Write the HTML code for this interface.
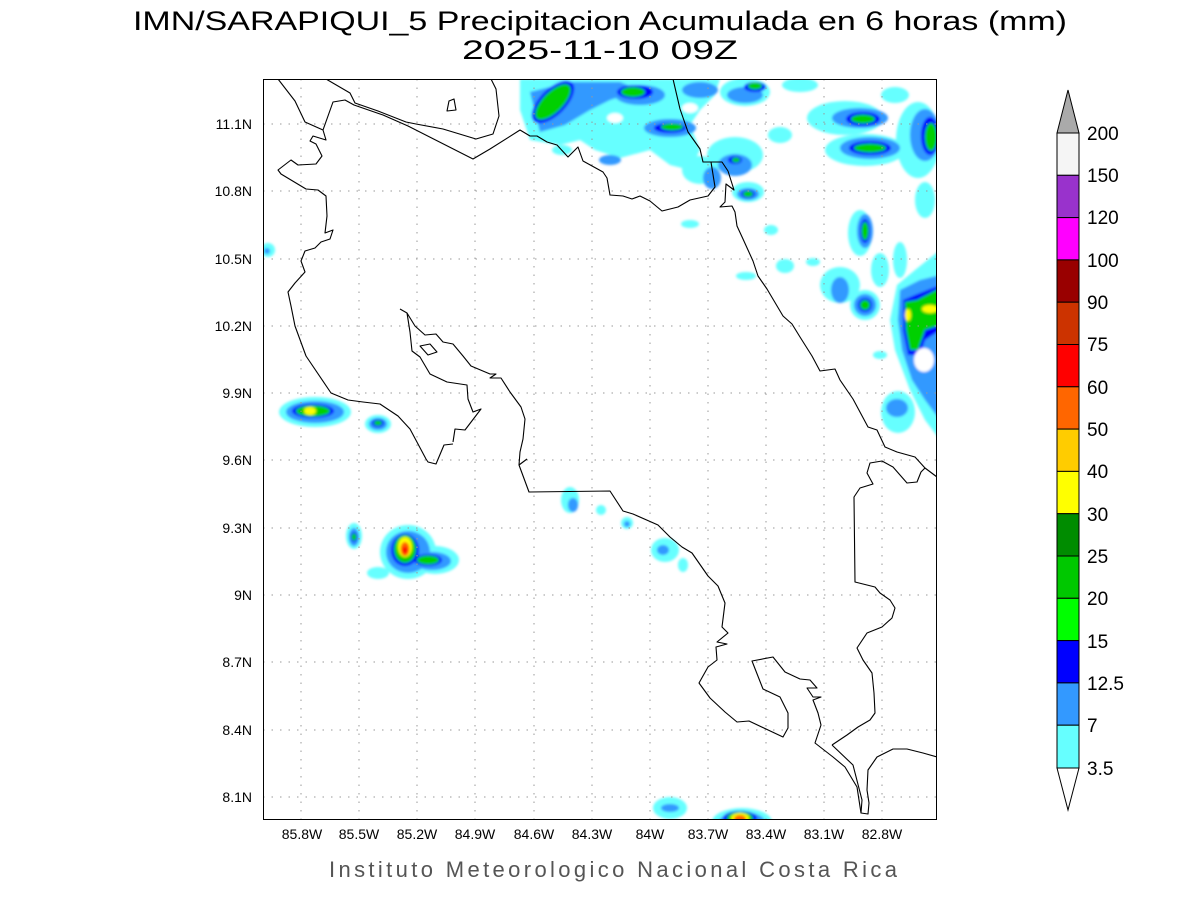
<!DOCTYPE html>
<html><head><meta charset="utf-8"><style>
html,body{margin:0;padding:0;background:#fff;}
svg{display:block;}
text{font-family:"Liberation Sans",sans-serif;}
</style></head><body>
<svg width="1200" height="900" viewBox="0 0 1200 900" xmlns="http://www.w3.org/2000/svg">
<rect width="1200" height="900" fill="#fff"/>
<text x="600" y="30" font-size="27" text-anchor="middle" textLength="934" lengthAdjust="spacingAndGlyphs" fill="#000">IMN/SARAPIQUI_5 Precipitacion Acumulada en 6 horas (mm)</text>
<text x="600" y="59" font-size="27" text-anchor="middle" textLength="276" lengthAdjust="spacingAndGlyphs" fill="#000">2025-11-10 09Z</text>

<defs><clipPath id="c"><rect x="263" y="79" width="674" height="741"/></clipPath>
<filter id="b" x="-20%" y="-20%" width="140%" height="140%"><feGaussianBlur stdDeviation="1.2"/></filter></defs>

<g clip-path="url(#c)">
<g filter="url(#b)">
<g fill="#66ffff">
<path d="M520,79 L720,79 L715,95 L700,110 L690,125 L700,150 L690,170 L670,165 L650,150 L620,158 L595,150 L580,140 L560,145 L530,140 L520,110 Z"/>
<ellipse cx="700" cy="170" rx="18" ry="14"/>
<ellipse cx="745" cy="92" rx="25" ry="14"/>
<ellipse cx="800" cy="85" rx="18" ry="7"/>
<ellipse cx="895" cy="95" rx="14" ry="8"/>
<ellipse cx="780" cy="135" rx="12" ry="8"/>
<ellipse cx="562" cy="150" rx="10" ry="5"/>
<ellipse cx="735" cy="155" rx="28" ry="18"/>
<ellipse cx="748" cy="192" rx="16" ry="10"/>
<ellipse cx="845" cy="118" rx="38" ry="17"/>
<ellipse cx="865" cy="150" rx="40" ry="16"/>
<ellipse cx="918" cy="140" rx="22" ry="38"/>
<ellipse cx="925" cy="200" rx="10" ry="18"/>
<ellipse cx="860" cy="233" rx="12" ry="23"/>
<ellipse cx="785" cy="266" rx="9" ry="7"/>
<ellipse cx="771" cy="230" rx="7" ry="5"/>
<ellipse cx="690" cy="224" rx="9" ry="4"/>
<ellipse cx="746" cy="276" rx="10" ry="4"/>
<ellipse cx="813" cy="262" rx="7" ry="4"/>
<ellipse cx="840" cy="285" rx="20" ry="18"/>
<ellipse cx="865" cy="305" rx="15" ry="15"/>
<ellipse cx="880" cy="270" rx="9" ry="17"/>
<ellipse cx="900" cy="260" rx="7" ry="18"/>
<path d="M897,285 L915,270 L940,250 L940,440 L925,420 L910,390 L895,350 L890,320 Z"/>
<ellipse cx="898" cy="412" rx="17" ry="21"/>
<ellipse cx="880" cy="355" rx="7" ry="4"/>
<ellipse cx="268" cy="250" rx="7" ry="7"/>
<ellipse cx="315" cy="412" rx="36" ry="15"/>
<ellipse cx="378" cy="424" rx="13" ry="9"/>
<ellipse cx="354" cy="536" rx="8" ry="13"/>
<ellipse cx="408" cy="552" rx="28" ry="27"/>
<ellipse cx="435" cy="560" rx="24" ry="14"/>
<ellipse cx="378" cy="573" rx="11" ry="6"/>
<ellipse cx="570" cy="500" rx="9" ry="13"/>
<ellipse cx="601" cy="510" rx="5" ry="5"/>
<ellipse cx="627" cy="523" rx="6" ry="6"/>
<ellipse cx="665" cy="550" rx="14" ry="12"/>
<ellipse cx="683" cy="565" rx="5" ry="7"/>
<ellipse cx="670" cy="808" rx="17" ry="11"/>
<ellipse cx="742" cy="822" rx="30" ry="14"/>
</g>
<g fill="#3399ff">
<path d="M530,92 L570,82 L620,82 L640,90 L610,100 L590,110 L565,125 L540,132 Z"/>
<ellipse cx="640" cy="95" rx="25" ry="10"/>
<ellipse cx="700" cy="90" rx="18" ry="8"/>
<ellipse cx="670" cy="128" rx="26" ry="9"/>
<ellipse cx="745" cy="95" rx="18" ry="8"/>
<ellipse cx="735" cy="165" rx="17" ry="11"/>
<ellipse cx="748" cy="194" rx="11" ry="6"/>
<ellipse cx="712" cy="178" rx="9" ry="11"/>
<ellipse cx="610" cy="160" rx="11" ry="5"/>
<ellipse cx="860" cy="118" rx="28" ry="10"/>
<ellipse cx="870" cy="148" rx="30" ry="11"/>
<ellipse cx="925" cy="135" rx="15" ry="26"/>
<ellipse cx="865" cy="231" rx="8" ry="17"/>
<ellipse cx="840" cy="290" rx="9" ry="13"/>
<ellipse cx="865" cy="305" rx="11" ry="11"/>
<path d="M900,290 L920,280 L940,275 L940,420 L925,400 L912,380 L902,350 L898,320 Z"/>
<ellipse cx="897" cy="408" rx="11" ry="9"/>
<ellipse cx="267" cy="251" rx="3" ry="3"/>
<ellipse cx="315" cy="412" rx="29" ry="11"/>
<ellipse cx="378" cy="424" rx="9" ry="6"/>
<ellipse cx="354" cy="537" rx="5" ry="9"/>
<ellipse cx="408" cy="552" rx="22" ry="21"/>
<ellipse cx="432" cy="561" rx="19" ry="9"/>
<ellipse cx="573" cy="505" rx="5" ry="7"/>
<ellipse cx="627" cy="524" rx="3" ry="3"/>
<ellipse cx="663" cy="550" rx="6" ry="5"/>
<ellipse cx="670" cy="808" rx="9" ry="4"/>
<ellipse cx="742" cy="822" rx="23" ry="10"/>
</g>
<g fill="#0000ff">
<ellipse cx="553" cy="102" rx="27" ry="13" transform="rotate(-45 553 102)"/>
<ellipse cx="635" cy="92" rx="18" ry="7"/>
<ellipse cx="670" cy="128" rx="16" ry="5"/>
<ellipse cx="755" cy="87" rx="11" ry="5"/>
<ellipse cx="735" cy="160" rx="7" ry="4"/>
<ellipse cx="748" cy="194" rx="7" ry="4"/>
<ellipse cx="863" cy="119" rx="17" ry="7"/>
<ellipse cx="870" cy="148" rx="21" ry="7"/>
<ellipse cx="930" cy="136" rx="9" ry="19"/>
<ellipse cx="865" cy="231" rx="5" ry="12"/>
<ellipse cx="865" cy="305" rx="7" ry="7"/>
<path d="M903,300 L915,295 L940,285 L940,330 L925,340 L920,355 L908,355 L903,330 Z"/>
<ellipse cx="313" cy="411" rx="21" ry="7"/>
<ellipse cx="378" cy="423" rx="6" ry="4"/>
<ellipse cx="354" cy="537" rx="3.5" ry="5"/>
<ellipse cx="405" cy="550" rx="14" ry="16"/>
<ellipse cx="428" cy="560" rx="14" ry="6"/>
<ellipse cx="740" cy="818" rx="17" ry="7"/>
</g>
<g fill="#00d000">
<ellipse cx="553" cy="102" rx="23" ry="10" transform="rotate(-45 553 102)"/>
<ellipse cx="633" cy="92" rx="12" ry="5"/>
<ellipse cx="672" cy="127" rx="11" ry="3.5"/>
<ellipse cx="755" cy="86" rx="7" ry="3.5"/>
<ellipse cx="736" cy="160" rx="4" ry="2.5"/>
<ellipse cx="748" cy="194" rx="5" ry="3"/>
<ellipse cx="863" cy="119" rx="12" ry="4.5"/>
<ellipse cx="870" cy="148" rx="16" ry="4.5"/>
<ellipse cx="931" cy="137" rx="6" ry="14"/>
<ellipse cx="865" cy="231" rx="3.5" ry="9"/>
<ellipse cx="865" cy="305" rx="5" ry="5"/>
<path d="M905,302 L917,300 L940,288 L940,325 L925,330 L918,350 L910,350 L906,330 Z"/>
<ellipse cx="313" cy="411" rx="17" ry="5.5"/>
<ellipse cx="378" cy="423" rx="4" ry="2.5"/>
<ellipse cx="354" cy="537" rx="2.5" ry="3.5"/>
<ellipse cx="405" cy="549" rx="11" ry="14"/>
<ellipse cx="428" cy="560" rx="11" ry="4.5"/>
<ellipse cx="740" cy="818" rx="13" ry="6"/>
</g>
<g fill="#ffff00">
<ellipse cx="310" cy="411" rx="6" ry="4"/>
<ellipse cx="908" cy="315" rx="3" ry="6"/>
<ellipse cx="930" cy="309" rx="8" ry="4"/>
<ellipse cx="405" cy="547" rx="7" ry="10"/>
<ellipse cx="740" cy="818" rx="9" ry="5"/>
</g>
<g fill="#ff6400"><ellipse cx="405" cy="549" rx="4.5" ry="7"/><ellipse cx="740" cy="819" rx="6" ry="4"/></g>
<g fill="#ff0000"><ellipse cx="405" cy="550" rx="2.5" ry="3.5"/></g>
<ellipse cx="924" cy="360" rx="10" ry="12" fill="#fff"/>
<ellipse cx="615" cy="118" rx="8" ry="5" fill="#fff"/>
<ellipse cx="690" cy="108" rx="8" ry="5" fill="#fff"/>
</g>

<g stroke="#999" stroke-width="1" stroke-dasharray="1.5,7" fill="none">
<path d="M301,79V820M359,79V820M417,79V820M475,79V820M534,79V820M592,79V820M650,79V820M708,79V820M766,79V820M824,79V820M882,79V820"/>
<path d="M263,124H937M263,191H937M263,259H937M263,326H937M263,393H937M263,460H937M263,528H937M263,595H937M263,662H937M263,730H937M263,797H937"/>
</g>

<g fill="none" stroke="#000" stroke-width="1.1" stroke-linejoin="round">
<path d="M326,79 L350,93 L355,103 L378,111 L406,122 L416,124 L443,129 L476,139 L493,134 L499,116 L496,89 L491,79"/>
<path d="M278,79 L295,101 L305,122 L323,130 L326,140 L313,136 L310,141 L316,144 L322,156 L316,164 L298,165 L291,160 L278,170 L281,174 L306,189 L318,190 L326,196 L327,216 L325,233 L333,230 L330,239 L321,242 L315,248 L305,251 L301,261 L305,272 L295,283 L288,292 L291,306 L295,326 L306,356 L331,393 L348,400 L363,402 L380,404 L398,416 L410,429 L426,459 L428,462 L436,464 L444,445 L453,444"/>
<path d="M323,130 L333,102 L345,100 L354,105 L383,115 L408,126 L473,159 L490,149 L520,130 L530,136 L537,136 L547,142 L557,145 L568,157 L578,147 L583,161 L603,172 L607,178 L610,195 L623,196 L632,199 L640,196 L650,201 L662,211 L678,207 L690,200 L708,196 L715,187 L711,162 L703,162 L700,149 L688,132 L680,109 L673,79"/>
<path d="M711,162 L722,162 L728,171 L734,190 L726,184 L725,202 L720,207 L732,206 L735,212 L737,226 L743,239 L753,261 L758,276 L767,289 L783,316 L792,324 L800,337 L812,356 L820,371 L835,369 L840,380 L853,399 L868,427 L877,430 L885,447 L897,452 L915,457 L925,468 L937,477"/>
<path d="M400,309 L407,313 L410,332 L412,351 L420,357 L430,374 L447,382 L467,385 L468,399 L473,412 L481,409 L465,430 L455,429 L453,442"/>
<path d="M407,313 L415,326 L425,335 L436,334 L443,342 L453,344 L463,356 L471,366 L490,374 L496,374 L490,378 L501,378 L510,392 L521,407 L525,419 L523,439 L520,452 L519,465 L527,459"/>
<path d="M420,346 L430,344 L437,352 L428,355 Z"/>
<path d="M449,101 L454,99 L456,110 L447,111 Z"/>
<path d="M519,465 L529,492 L610,491 L623,511 L633,514 L658,525 L670,537 L682,547 L692,553 L708,576 L718,586 L725,603 L722,627 L728,633 L717,642 L727,644 L716,647 L717,660 L708,667 L699,683 L710,698 L725,712 L737,722 L749,721 L783,737 L788,728 L788,713 L780,697 L763,689 L752,661 L773,657 L785,672 L800,679 L810,680 L817,688 L807,688 L813,697 L821,697 L813,700 L818,713 L821,725 L815,743 L833,757 L845,767 L857,787 L861,813 L868,814 L869,803 L867,790 L868,770 L877,757 L893,749 L907,749 L923,753 L937,757"/>
<path d="M832,745 L847,735 L858,727 L870,720 L875,713 L874,693 L872,673 L863,660 L857,648 L867,633 L882,627 L892,618 L895,608 L890,600 L880,593 L875,587 L855,582 L854,497 L860,488 L873,484 L867,473 L870,463 L882,461 L893,467 L907,483 L917,482 L921,472 L925,468"/>
<path d="M832,745 L853,765 L862,800 L861,813"/>
</g>
</g>
<rect x="263.5" y="79.5" width="673" height="740" fill="none" stroke="#000" stroke-width="1"/>

<g font-size="14" fill="#000" text-anchor="end">
<text x="252" y="129">11.1N</text><text x="252" y="196">10.8N</text><text x="252" y="264">10.5N</text><text x="252" y="331">10.2N</text><text x="252" y="398">9.9N</text><text x="252" y="465">9.6N</text><text x="252" y="533">9.3N</text><text x="252" y="600">9N</text><text x="252" y="667">8.7N</text><text x="252" y="735">8.4N</text><text x="252" y="802">8.1N</text>
</g>
<g font-size="14" fill="#000" text-anchor="middle">
<text x="302" y="839">85.8W</text><text x="359" y="839">85.5W</text><text x="417" y="839">85.2W</text><text x="475" y="839">84.9W</text><text x="534" y="839">84.6W</text><text x="592" y="839">84.3W</text><text x="650" y="839">84W</text><text x="708" y="839">83.7W</text><text x="766" y="839">83.4W</text><text x="824" y="839">83.1W</text><text x="882" y="839">82.8W</text>
</g>
<text x="613" y="877" font-size="22" fill="#555" text-anchor="middle" textLength="568" lengthAdjust="spacing">Instituto Meteorologico Nacional Costa Rica</text>

<g stroke="#000" stroke-width="1">
<polygon points="1068,90 1057,133 1079,133" fill="#aaaaaa"/>
<rect x="1057" y="133" width="22" height="42.3" fill="#f5f5f5"/>
<rect x="1057" y="175.3" width="22" height="42.3" fill="#9932cc"/>
<rect x="1057" y="217.6" width="22" height="42.3" fill="#ff00ff"/>
<rect x="1057" y="259.9" width="22" height="42.3" fill="#990000"/>
<rect x="1057" y="302.2" width="22" height="42.3" fill="#cc3300"/>
<rect x="1057" y="344.5" width="22" height="42.3" fill="#ff0000"/>
<rect x="1057" y="386.8" width="22" height="42.3" fill="#ff6600"/>
<rect x="1057" y="429.1" width="22" height="42.3" fill="#ffcc00"/>
<rect x="1057" y="471.4" width="22" height="42.3" fill="#ffff00"/>
<rect x="1057" y="513.7" width="22" height="42.3" fill="#008c00"/>
<rect x="1057" y="556" width="22" height="42.3" fill="#00c800"/>
<rect x="1057" y="598.3" width="22" height="42.3" fill="#00ff00"/>
<rect x="1057" y="640.6" width="22" height="42.3" fill="#0000ff"/>
<rect x="1057" y="682.9" width="22" height="42.3" fill="#3399ff"/>
<rect x="1057" y="725.2" width="22" height="42.8" fill="#66ffff"/>
<polygon points="1057,768 1079,768 1068,810" fill="#fff"/>
</g>
<g font-size="19" fill="#000">
<text x="1087" y="140">200</text><text x="1087" y="182">150</text><text x="1087" y="224">120</text><text x="1087" y="267">100</text><text x="1087" y="309">90</text><text x="1087" y="351">75</text><text x="1087" y="394">60</text><text x="1087" y="436">50</text><text x="1087" y="478">40</text><text x="1087" y="521">30</text><text x="1087" y="563">25</text><text x="1087" y="605">20</text><text x="1087" y="648">15</text><text x="1087" y="690">12.5</text><text x="1087" y="732">7</text><text x="1087" y="775">3.5</text>
</g>
</svg>
</body></html>
